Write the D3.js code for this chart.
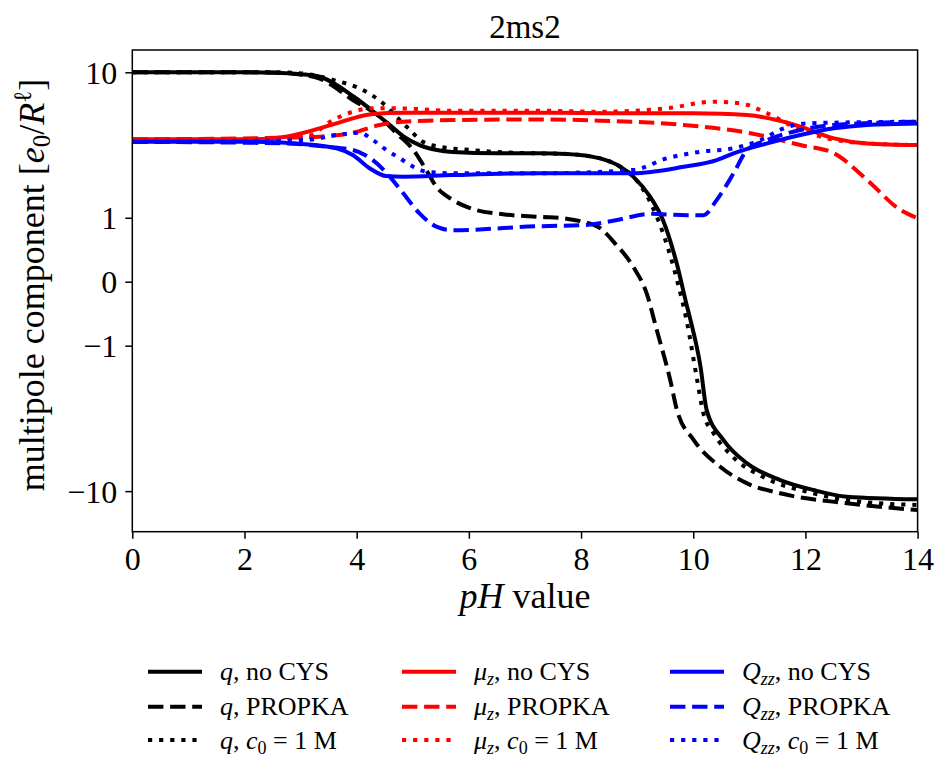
<!DOCTYPE html>
<html>
<head>
<meta charset="utf-8">
<script src="https://cdn.jsdelivr.net/npm/d3@7"></script>
<style>
  body { margin: 0; background: #fff; }
  svg, svg text { font-family: "Liberation Serif", "DejaVu Serif", serif; }
  .tick-label { font-size: 32px; fill: #000; }
  .axis-title { font-size: 36px; fill: #000; }
  .plot-title { font-size: 33px; fill: #000; }
  .legend-text { font-size: 26px; fill: #000; }
</style>
</head>
<body>
<div id="wrapper"></div>
<script>
// pH axis ticks and symlog-style y ticks
const phTicks = [0, 2, 4, 6, 8, 10, 12, 14];
const yTicks = [-10, -1, 0, 1, 10];

// series: [pH, value]
const qNoCys = [[0, 10], [2.0, 10], [2.45, 9.95], [3.0, 9.75], [3.34, 9.43], [3.95, 7.21], [4.3, 5.87], [4.55, 5.0], [4.84, 4.11], [5.12, 3.63], [5.43, 3.37], [5.71, 3.27], [6.5, 3.2], [7.27, 3.2], [7.74, 3.17], [8.34, 2.96], [8.7, 2.59], [8.93, 2.2], [9.23, 1.54], [9.46, 0.95], [9.71, 0.2], [9.89, -0.3], [9.95, -0.5], [10.13, -1.54], [10.24, -3.2], [10.54, -4.98], [10.96, -6.89], [11.55, -8.63], [12.14, -9.85], [12.74, -10.76], [14, -11.14]];
const qPropka = [[0, 10], [2.4, 10], [3.0, 9.7], [3.34, 9.2], [3.93, 6.9], [4.41, 5.47], [4.71, 4.32], [5.01, 3.37], [5.24, 2.46], [5.42, 1.85], [5.71, 1.45], [6.02, 1.23], [6.61, 1.08], [7.27, 1.02], [7.74, 0.98], [8.04, 0.91], [8.34, 0.78], [8.6, 0.51], [8.93, 0.17], [9.17, -0.13], [9.35, -0.68], [9.59, -1.96], [9.71, -3.2], [10.01, -4.98], [10.48, -7.21], [10.96, -9.02], [11.55, -10.29], [12.74, -11.73], [14, -12.8]];
const qC0 = [[0, 10], [2.5, 10], [2.98, 9.87], [3.58, 9.03], [4.11, 7.9], [4.47, 6.59], [4.71, 5.47], [4.95, 4.53], [5.18, 3.81], [5.48, 3.54], [6.02, 3.37], [6.6, 3.25], [7.27, 3.2], [7.74, 3.17], [8.34, 2.96], [8.7, 2.59], [8.93, 2.2], [9.23, 1.4], [9.46, 0.69], [9.71, 0.02], [9.89, -0.55], [10.07, -1.96], [10.18, -3.35], [10.36, -4.5], [10.71, -6.32], [11.25, -8.29], [12.14, -10.29], [12.74, -11.24], [14, -12.0]];
const muNoCys = [[0, 3.95], [2.14, 3.95], [2.74, 4.11], [3.34, 4.64], [3.64, 4.98], [3.93, 5.35], [4.29, 5.68], [4.82, 5.79], [7.27, 5.79], [8.0, 5.76], [10.0, 5.74], [10.96, 5.6], [11.49, 5.22], [11.91, 4.75], [12.51, 4.01], [13.1, 3.72], [14, 3.63]];
const muPropka = [[0, 3.95], [2.74, 4.05], [3.34, 4.11], [3.93, 4.35], [4.41, 4.87], [4.82, 5.1], [5.71, 5.22], [7.27, 5.27], [8.34, 5.17], [9.83, 4.87], [11.02, 4.32], [11.91, 3.63], [12.51, 3.2], [13.1, 2.08], [13.7, 1.18], [14, 0.99]];
const muC0 = [[0, 3.95], [2.5, 3.97], [3.1, 4.11], [3.58, 5.22], [3.93, 5.87], [4.29, 6.15], [4.71, 6.15], [5.71, 5.95], [7.27, 5.95], [8.34, 5.87], [9.53, 6.15], [10.36, 6.74], [10.84, 6.59], [11.32, 5.74], [11.79, 4.75], [12.39, 4.01], [13.1, 3.72], [14, 3.63]];
const qzzNoCys = [[0, 3.81], [2.14, 3.81], [3.04, 3.69], [3.64, 3.46], [3.93, 3.12], [4.23, 2.53], [4.53, 2.22], [4.82, 2.2], [5.71, 2.26], [7.27, 2.33], [8.93, 2.33], [9.83, 2.59], [10.42, 2.88], [10.72, 3.2], [11.32, 3.72], [11.91, 4.21], [12.51, 4.64], [13.1, 4.87], [14, 4.98]];
const qzzPropka = [[0, 3.81], [2.74, 3.72], [3.46, 3.54], [3.93, 3.37], [4.29, 2.88], [4.59, 2.2], [4.83, 1.64], [5.12, 1.1], [5.42, 0.81], [5.71, 0.74], [7.27, 0.82], [8.04, 0.84], [8.64, 0.95], [9.23, 1.09], [9.89, 1.06], [10.18, 1.06], [10.42, 1.45], [10.72, 2.33], [10.96, 3.37], [11.32, 3.91], [11.91, 4.53], [12.51, 4.87], [14, 5.1]];
const qzzC0 = [[0, 3.81], [3.1, 3.91], [3.64, 4.21], [4.05, 4.35], [4.29, 3.91], [4.53, 3.37], [4.77, 2.96], [5.01, 2.59], [5.24, 2.39], [5.71, 2.33], [7.27, 2.33], [8.93, 2.46], [9.53, 2.96], [10.13, 3.28], [10.72, 3.46], [11.2, 3.91], [11.61, 4.64], [12.03, 4.98], [12.51, 5.03], [14, 5.1]];

const yMin = -16.92;
const yMax = 13.38;

const series = [
  { data: qNoCys, color: "#000000", style: "solid", sym: [["q", "i"]], tail: ", no CYS" },
  { data: qPropka, color: "#000000", style: "dashed", sym: [["q", "i"]], tail: ", PROPKA" },
  { data: qC0, color: "#000000", style: "dotted", sym: [["q", "i"]], tail: "c0" },
  { data: muNoCys, color: "#ff0000", style: "solid", sym: [["μ", "i"], ["z", "sub"]], tail: ", no CYS" },
  { data: muPropka, color: "#ff0000", style: "dashed", sym: [["μ", "i"], ["z", "sub"]], tail: ", PROPKA" },
  { data: muC0, color: "#ff0000", style: "dotted", sym: [["μ", "i"], ["z", "sub"]], tail: "c0" },
  { data: qzzNoCys, color: "#0000ff", style: "solid", sym: [["Q", "i"], ["zz", "sub"]], tail: ", no CYS" },
  { data: qzzPropka, color: "#0000ff", style: "dashed", sym: [["Q", "i"], ["zz", "sub"]], tail: ", PROPKA" },
  { data: qzzC0, color: "#0000ff", style: "dotted", sym: [["Q", "i"], ["zz", "sub"]], tail: "c0" },
];

const lineWidth = 4;
const dashes = { solid: null, dashed: "15.4,6.7", dotted: "4.2,6.9" };
const serif = '"Liberation Serif", "DejaVu Serif", serif';

const width = 949;
const height = 780;
const margin = { top: 50, right: 31.4, bottom: 248.3, left: 132.3 };
const innerW = width - margin.left - margin.right;
const innerH = height - margin.top - margin.bottom;

const svg = d3.select("#wrapper").append("svg")
  .attr("width", width)
  .attr("height", height);

svg.append("defs").append("clipPath").attr("id", "plot-clip")
  .append("rect").attr("width", innerW).attr("height", innerH);

const bounds = svg.append("g")
  .attr("transform", `translate(${margin.left},${margin.top})`);

const x = d3.scaleLinear().domain([0, 14]).range([0, innerW]);
const y = d3.scaleSymlog().constant(0.85).domain([yMin, yMax]).range([innerH, 0]);

// lines
const line = d3.line()
  .x(d => x(d[0]))
  .y(d => y(d[1]))
  .curve(d3.curveMonotoneX);

const lineGroup = bounds.append("g").attr("clip-path", "url(#plot-clip)");
series.forEach(s => {
  lineGroup.append("path")
    .attr("d", line(s.data))
    .attr("fill", "none")
    .attr("stroke", s.color)
    .attr("stroke-width", lineWidth)
    .attr("stroke-dasharray", dashes[s.style])
    .attr("stroke-linejoin", "round");
});

// axes
const fmt = d => d < 0 ? "\u2212" + Math.abs(d) : String(d);

const xAxis = bounds.append("g")
  .attr("transform", `translate(0,${innerH})`)
  .call(d3.axisBottom(x).tickValues(phTicks).tickSize(7).tickPadding(10).tickFormat(fmt));
const yAxis = bounds.append("g")
  .call(d3.axisLeft(y).tickValues(yTicks).tickSize(7).tickPadding(8).tickFormat(fmt));

[xAxis, yAxis].forEach(a => {
  a.attr("font-family", null).attr("font-size", null);
  a.select(".domain").remove();
  a.selectAll(".tick line").attr("stroke", "#000").attr("stroke-width", 1.5);
  a.selectAll(".tick text")
    .attr("class", "tick-label")
    .style("font-family", serif)
    .style("font-size", "32px");
});
xAxis.selectAll(".tick text").attr("dy", "0.68em");
yAxis.selectAll(".tick text").attr("dy", "0.34em");

bounds.append("rect")
  .attr("width", innerW)
  .attr("height", innerH)
  .attr("fill", "none")
  .attr("stroke", "#000")
  .attr("stroke-width", 1.5);

// title and axis labels
svg.append("text")
  .attr("class", "plot-title")
  .attr("x", margin.left + innerW / 2)
  .attr("y", 38)
  .attr("text-anchor", "middle")
  .text("2ms2");

const xLabel = svg.append("text")
  .attr("class", "axis-title")
  .attr("x", margin.left + innerW / 2)
  .attr("y", 608)
  .attr("text-anchor", "middle");
xLabel.append("tspan").attr("font-style", "italic").text("pH");
xLabel.append("tspan").text(" value");

const yLabel = svg.append("text")
  .attr("class", "axis-title")
  .attr("transform", "translate(44,285) rotate(-90)")
  .attr("text-anchor", "middle");
yLabel.append("tspan").text("multipole component [");
yLabel.append("tspan").attr("font-style", "italic").text("e");
yLabel.append("tspan").attr("font-size", "25px").attr("dy", 6).text("0");
yLabel.append("tspan").attr("dy", -6).text("/");
yLabel.append("tspan").attr("font-style", "italic").text("R");
yLabel.append("tspan").attr("font-size", "25px").attr("dy", -13).text("\u2113");
yLabel.append("tspan").attr("dy", 13).text("]");

// legend
const legendX = [148, 402, 670];
const legendY = [671.7, 706.7, 740];
const handleLen = 54;

series.forEach((s, i) => {
  const col = Math.floor(i / 3);
  const row = i % 3;
  const g = svg.append("g")
    .attr("transform", `translate(${legendX[col]},${legendY[row]})`);
  g.append("line")
    .attr("x2", handleLen)
    .attr("stroke", s.color)
    .attr("stroke-width", lineWidth)
    .attr("stroke-dasharray", dashes[s.style]);
  const t = g.append("text")
    .attr("class", "legend-text")
    .attr("x", handleLen + 18)
    .attr("y", 8.5);
  let shift = 0;
  s.sym.forEach(([str, kind]) => {
    if (kind === "sub") {
      t.append("tspan").attr("font-style", "italic").attr("font-size", "18px")
        .attr("dy", 5 - shift).text(str);
      shift = 5;
    } else {
      t.append("tspan").attr("font-style", "italic").attr("dy", -shift).text(str);
      shift = 0;
    }
  });
  if (s.tail === "c0") {
    t.append("tspan").attr("dy", -shift).text(", ");
    t.append("tspan").attr("font-style", "italic").text("c");
    t.append("tspan").attr("font-size", "18px").attr("dy", 5).text("0");
    t.append("tspan").attr("dy", -5).text(" = 1 M");
  } else {
    t.append("tspan").attr("dy", -shift).text(s.tail);
  }
});
</script>
</body>
</html>
